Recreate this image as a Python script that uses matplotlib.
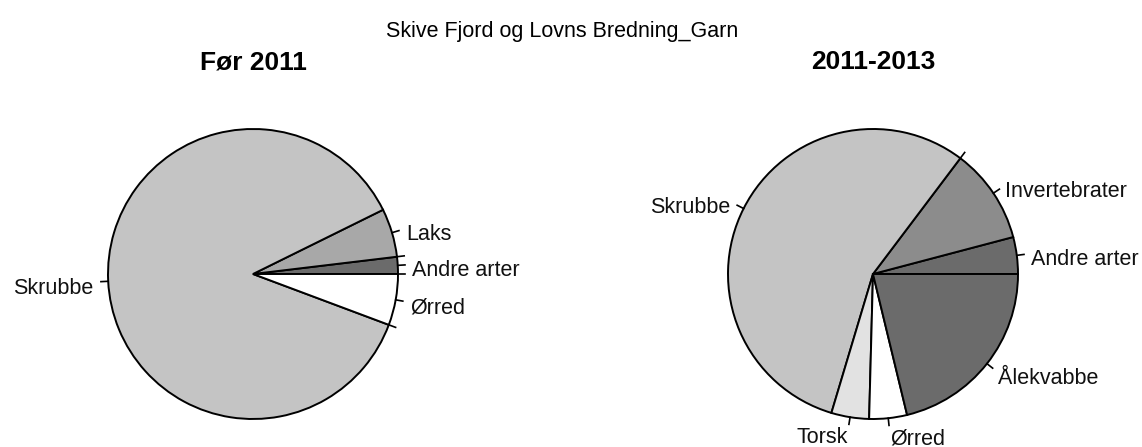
import numpy as np
import matplotlib
matplotlib.use("Agg")
import matplotlib.pyplot as plt

plt.rcParams['font.family'] = ['Liberation Sans', 'DejaVu Sans']

categories = ["Andre arter", "Invertebrater", "Laks", "Skrubbe", "Torsk", "Ørred", "Ålekvabbe"]
before_2011 = [1.9, 0.0, 5.4, 87.0, 0.0, 5.7, 0.0]
period_2011_2013 = [4.1, 10.6, 0.0, 55.6, 4.2, 4.2, 21.2]
slice_colors = ["#6b6b6b", "#8c8c8c", "#a8a8a8", "#c4c4c4", "#e2e2e2", "#ffffff", "#6b6b6b"]
panel_titles = ["Før 2011", "2011-2013"]
main_title = "Skive Fjord og Lovns Bredning_Garn"

W, H = 1142, 447
fig = plt.figure(figsize=(W / 100, H / 100), dpi=100)

R_PX = 145.0
LIM = 1.6
centers = [(253, 274), (873, 274)]
LABEL_DROP = 6.0 / R_PX


def draw_pie(ax, values):
    vals = np.asarray(values, dtype=float)
    frac = vals / vals.sum()
    edges = np.concatenate([[0.0], np.cumsum(frac)]) * 360.0
    for i, (a0, a1) in enumerate(zip(edges[:-1], edges[1:])):
        if a1 - a0 > 0:
            w = matplotlib.patches.Wedge((0, 0), 1.0, a0, a1, facecolor=slice_colors[i],
                                         edgecolor="black", linewidth=1.4)
            ax.add_patch(w)
    for i, (a0, a1) in enumerate(zip(edges[:-1], edges[1:])):
        mid = np.deg2rad((a0 + a1) / 2)
        cx, cy = np.cos(mid), np.sin(mid)
        ax.plot([cx, 1.05 * cx], [cy, 1.05 * cy], color="black", lw=1.2)
        if vals[i] > 0:
            ax.text(1.1 * cx, 1.1 * cy - LABEL_DROP, categories[i],
                    ha="left" if cx >= 0 else "right",
                    va="center", fontsize=15.5, color="#111111")


for k, (vals, (cx, cy)) in enumerate(zip([before_2011, period_2011_2013], centers)):
    size = 2 * LIM * R_PX
    left = (cx - LIM * R_PX) / W
    bottom = ((H - cy) - LIM * R_PX) / H
    ax = fig.add_axes([left, bottom, size / W, size / H])
    ax.set_xlim(-LIM, LIM)
    ax.set_ylim(-LIM, LIM)
    ax.set_aspect("equal")
    ax.axis("off")
    draw_pie(ax, vals)
    fig.text(cx / W, 1 - 62 / H, panel_titles[k], ha="center", va="center",
             fontsize=19, fontweight="bold")

fig.text(562 / W, 1 - 31 / H, main_title, ha="center", va="center", fontsize=15.5)

fig.savefig("out.png", dpi=100, facecolor="white")
